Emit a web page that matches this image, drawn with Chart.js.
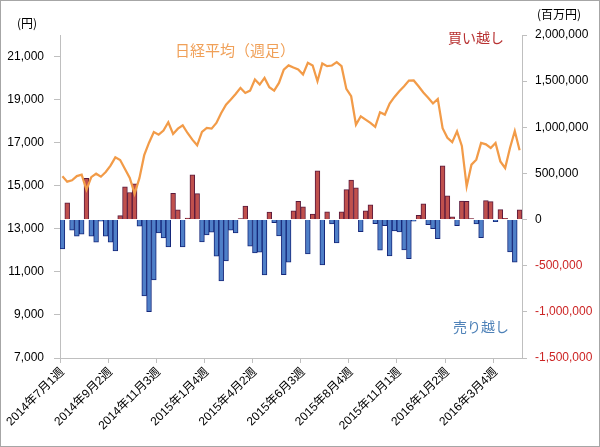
<!DOCTYPE html>
<html>
<head>
<meta charset="utf-8">
<script src="https://cdn.jsdelivr.net/npm/chart.js@4/dist/chart.umd.min.js"></script>
<style>
  body { margin: 0; background: #fff; }
</style>
</head>
<body>
<canvas id="chart" width="600" height="447"></canvas>
<script>
// tick labels on the week axis, one every 10 weeks
const tickLabels = ["2014年7月1週", "2014年9月2週", "2014年11月3週", "2015年1月4週", "2015年4月2週",
  "2015年6月3週", "2015年8月4週", "2015年11月1週", "2016年1月2週", "2016年3月4週"];
const weekCount = 96;

// 日経平均 weekly close (円)
const nikkei = [15435, 15190, 15250, 15450, 15513, 14816, 15400, 15560, 15420, 15637,
  15932, 16319, 16195, 15777, 15358, 14630, 15350, 16420, 17000, 17497,
  17373, 17559, 17946, 17404, 17652, 17807, 17450, 17140, 16877, 17497,
  17683, 17652, 17915, 18380, 18768, 19000, 19264, 19543, 19310, 19419,
  19930, 19698, 20008, 19574, 19419, 19776, 20396, 20590, 20490, 20400,
  20164, 20706, 20582, 19853, 20675, 20551, 20582, 20737, 20551, 19497,
  19156, 17838, 18226, 18071, 17916, 17730, 18412, 18303, 18815, 19125,
  19388, 19621, 19885, 19890, 19620, 19330, 19090, 18820, 19032, 17670,
  17230, 17025, 17528, 16850, 14970, 15978, 16211, 16986, 16920, 16753,
  16986, 16130, 15823, 16753, 17540, 16650];

// net buying / selling (百万円)
const netFlow = [-318000, 181000, -116000, -181000, -159000, 448000, -181000, -246000, -18000, -181000,
  -246000, -340000, 42000, 354000, 293000, 387000, -72000, -827000, -997000, -654000,
  -145000, -199000, -296000, 285000, 106000, -296000, 16000, 484000, 282000, -242000,
  -166000, -137000, -397000, -665000, -448000, -116000, -145000, 11000, 145000, -289000,
  -361000, -354000, -600000, 80000, -33000, -177000, -596000, -462000, 96000, 197000,
  137000, -372000, 60000, 527000, -491000, 83000, -47000, -253000, 83000, 325000,
  428000, 343000, -130000, 96000, 159000, -45000, -332000, -67000, -394000, -122000,
  -135000, -330000, -423000, -18000, 45000, 171000, -56000, -98000, -206000, 583000,
  257000, 29000, -65000, 200000, 199000, 10000, -47000, -197000, 206000, 195000,
  -22000, 108000, 14000, -350000, -462000, 105000];

const leftTicks = [7000, 9000, 11000, 13000, 15000, 17000, 19000, 21000];
const rightTicks = [-1500000, -1000000, -500000, 0, 500000, 1000000, 1500000, 2000000];

const weeks = [];
for (let i = 0; i < weekCount; i++) {
  weeks.push(i % 10 === 0 ? tickLabels[i / 10] : "");
}

const latin = "'Liberation Sans', 'Noto Sans CJK JP', sans-serif";
const jp = "'Noto Sans CJK JP', sans-serif";
const axisGrey = "#bfbfbf";

const notes = {
  id: "notes",
  afterDraw(chart) {
    const c = chart.ctx;
    c.save();
    c.textBaseline = "middle";
    c.fillStyle = "#000";
    c.font = "12px " + jp;
    c.fillText("(円)", 17, 23);
    c.fillText("(百万円)", 537, 14);
    c.font = "15px " + jp;
    c.fillStyle = "#F0A058";
    c.fillText("日経平均（週足）", 175, 50);
    c.font = "14px " + jp;
    c.fillStyle = "#B83232";
    c.fillText("買い越し", 448, 38);
    c.fillStyle = "#4F82B8";
    c.fillText("売り越し", 453, 327);
    c.strokeStyle = "#a6a6a6";
    c.lineWidth = 1;
    c.strokeRect(0.5, 0.5, 599, 446);
    c.restore();
  }
};

const ctx = document.getElementById("chart");
new Chart(ctx, {
  data: {
    labels: weeks,
    datasets: [
      {
        type: "line",
        data: nikkei,
        yAxisID: "y",
        borderColor: "#F29B48",
        borderWidth: 2.25,
        pointRadius: 0,
        tension: 0,
        order: 0
      },
      {
        type: "bar",
        data: netFlow,
        yAxisID: "y1",
        backgroundColor: netFlow.map(v => (v >= 0 ? "#C0504D" : "#4F7FC8")),
        borderColor: netFlow.map(v => (v >= 0 ? "#5A1A3C" : "#15277A")),
        borderWidth: 1,
        categoryPercentage: 1,
        barPercentage: 1,
        order: 1
      }
    ]
  },
  options: {
    responsive: false,
    animation: false,
    devicePixelRatio: 1,
    layout: { padding: { top: 35, left: 0, right: 0, bottom: 0 } },
    plugins: {
      legend: { display: false },
      tooltip: { enabled: false }
    },
    scales: {
      x: {
        offset: true,
        grid: {
          offset: true,
          drawOnChartArea: false,
          tickLength: 5,
          color: c => (c.index % 10 === 0 ? axisGrey : "rgba(0,0,0,0)")
        },
        border: { color: axisGrey },
        ticks: {
          autoSkip: false,
          minRotation: 45,
          maxRotation: 45,
          padding: 2,
          color: "#000",
          font: { family: latin, size: 12 }
        },
        afterFit: s => { s.height = 89; }
      },
      y: {
        position: "left",
        min: 7000,
        max: 22000,
        grid: { drawOnChartArea: false, tickLength: 6, color: axisGrey },
        border: { color: axisGrey },
        ticks: {
          padding: 10,
          color: "#000",
          font: { family: latin, size: 12 },
          callback: v => v.toLocaleString("en-US")
        },
        afterBuildTicks: s => { s.ticks = leftTicks.map(v => ({ value: v })); },
        afterFit: s => { s.width = 60; }
      },
      y1: {
        position: "right",
        min: -1500000,
        max: 2000000,
        grid: { drawOnChartArea: false, tickLength: 5, color: axisGrey },
        border: { color: axisGrey },
        ticks: {
          padding: 8,
          color: c => (c.tick.value < 0 ? "#CC2424" : "#000"),
          font: { family: latin, size: 12 },
          callback: v => v.toLocaleString("en-US")
        },
        afterBuildTicks: s => { s.ticks = rightTicks.map(v => ({ value: v })); },
        afterFit: s => { s.width = 78; }
      }
    }
  },
  plugins: [notes]
});
</script>
</body>
</html>
